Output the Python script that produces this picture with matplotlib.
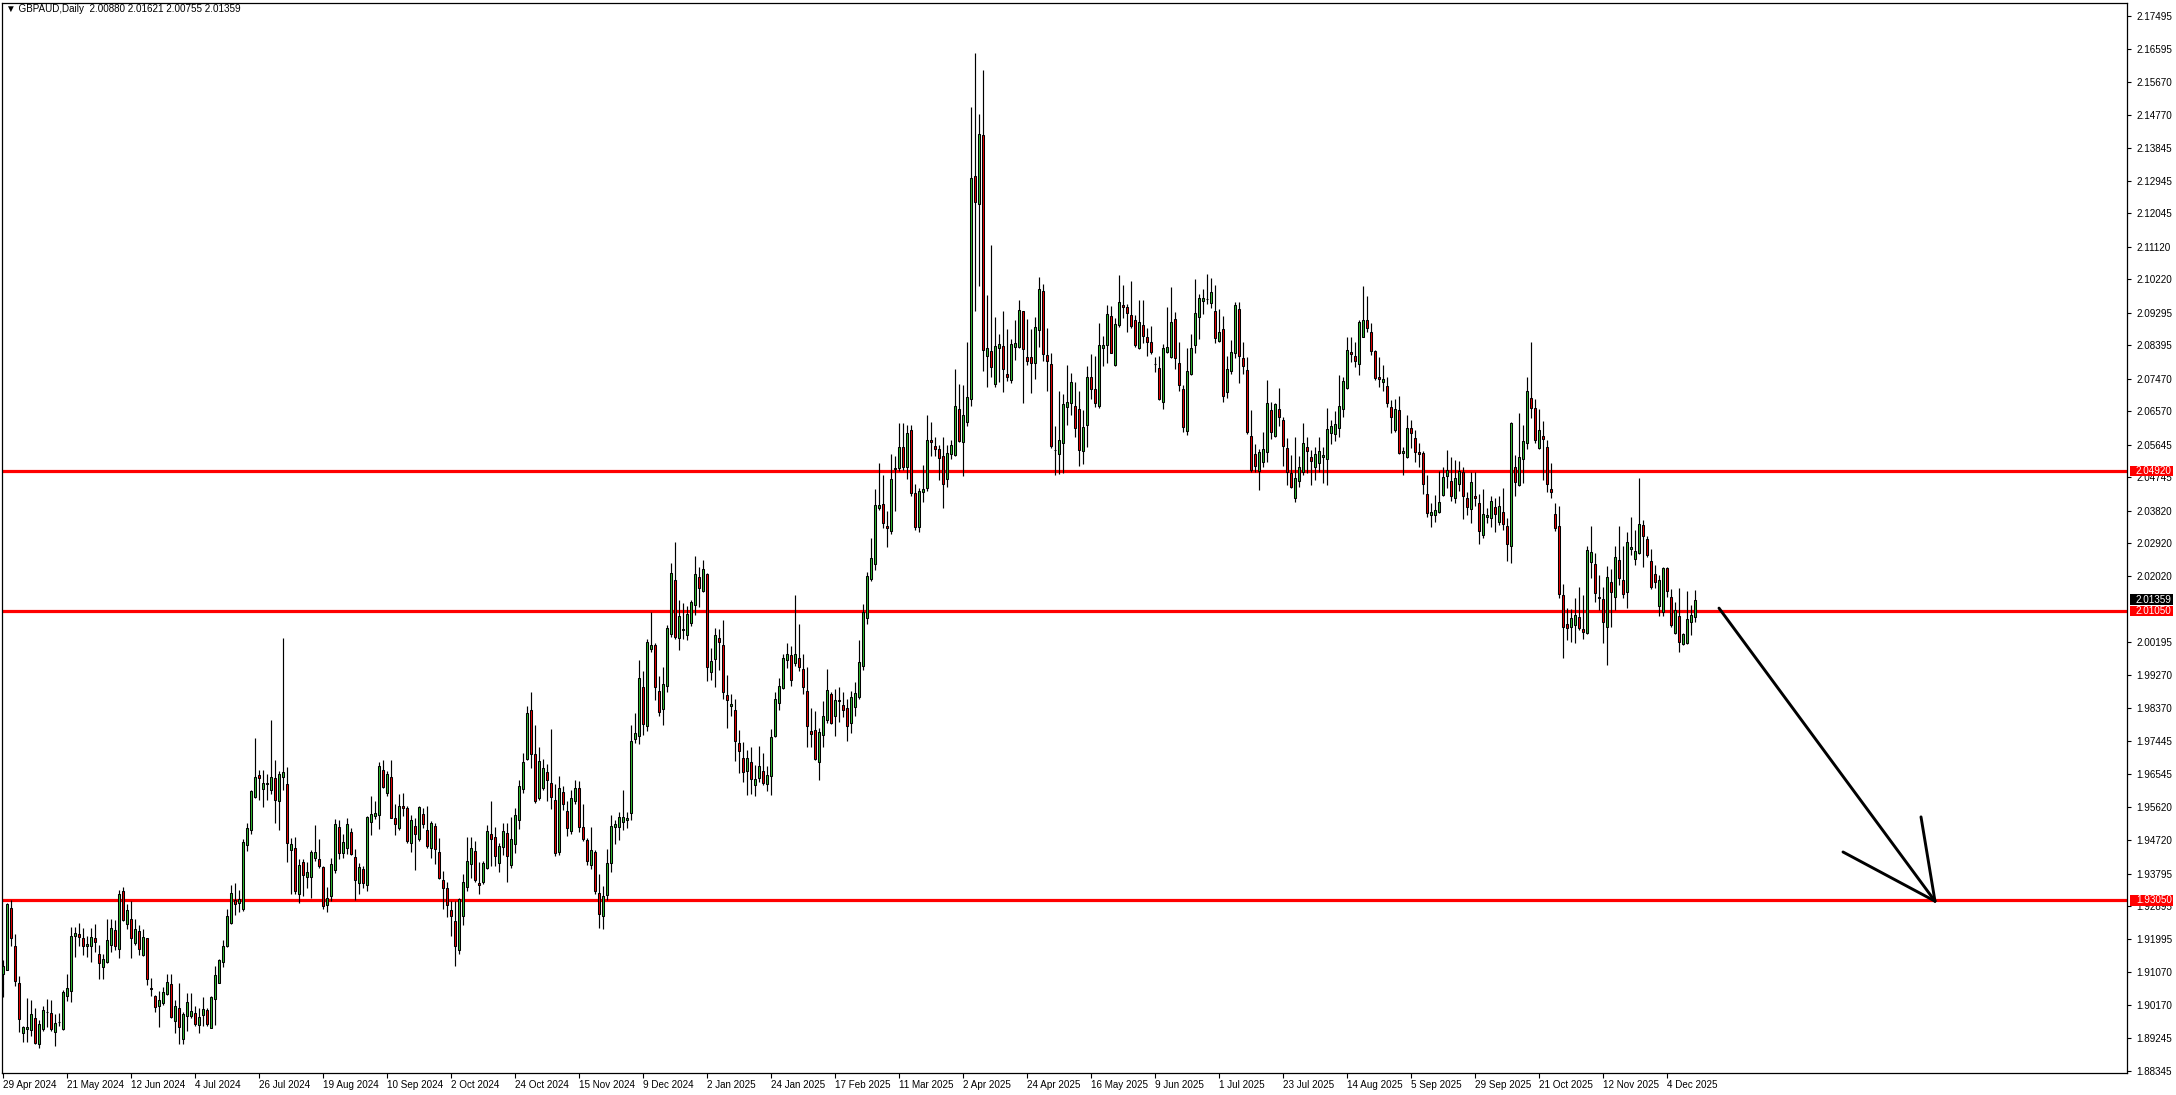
import matplotlib
matplotlib.use("Agg")
from matplotlib import pyplot as plt
from matplotlib import transforms
from matplotlib.patches import Rectangle
import numpy as np

plt.rcParams['font.family'] = ['Liberation Sans', 'DejaVu Sans']

# GBPAUD daily candles, 29 Apr 2024 .. 15 Dec 2025
opens = [
    1.9103, 1.9114, 1.9285, 1.9180, 1.9078, 1.8938, 1.8951, 1.8946, 1.8979, 1.8908,
    1.8949, 1.8996, 1.8993, 1.8941, 1.8968, 1.8949, 1.9040, 1.9056, 1.9207, 1.9211,
    1.9202, 1.9179, 1.9180, 1.9202, 1.9158, 1.9122, 1.9134, 1.9183, 1.9224, 1.9172,
    1.9331, 1.9241, 1.9255, 1.9188, 1.9220, 1.9155, 1.9200, 1.9063, 1.9041, 1.9013,
    1.9021, 1.9046, 1.9073, 1.8971, 1.9007, 1.8922, 1.8986, 1.8986, 1.8993, 1.8960,
    1.8988, 1.9001, 1.8952, 1.9034, 1.9078, 1.9135, 1.9178, 1.9244, 1.9307, 1.9298,
    1.9281, 1.9457, 1.9500, 1.9591, 1.9653, 1.9614, 1.9628, 1.9609, 1.9643, 1.9581,
    1.9646, 1.9628, 1.9445, 1.9450, 1.9324, 1.9412, 1.9371, 1.9371, 1.9423, 1.9419,
    1.9397, 1.9292, 1.9316, 1.9389, 1.9509, 1.9435, 1.9449, 1.9494, 1.9426, 1.9353,
    1.9393, 1.9347, 1.9522, 1.9538, 1.9541, 1.9666, 1.9602, 1.9645, 1.9534, 1.9506,
    1.9565, 1.9561, 1.9463, 1.9512, 1.9474, 1.9543, 1.9499, 1.9449, 1.9512, 1.9438,
    1.9361, 1.9339, 1.9280, 1.9249, 1.9169, 1.9263, 1.9343, 1.9405, 1.9442, 1.9353,
    1.9356, 1.9396, 1.9490, 1.9480, 1.9408, 1.9454, 1.9491, 1.9402, 1.9461, 1.9526,
    1.9612, 1.9697, 1.9832, 1.9711, 1.9589, 1.9615, 1.9659, 1.9631, 1.9584, 1.9438,
    1.9604, 1.9553, 1.9497, 1.9580, 1.9615, 1.9509, 1.9472, 1.9402, 1.9440, 1.9326,
    1.9263, 1.9321, 1.9408, 1.9509, 1.9507, 1.9523, 1.9527, 1.9546, 1.9752, 1.9759,
    1.9895, 1.9787, 2.0000, 2.0012, 1.9885, 1.9835, 1.9897, 2.0041, 2.0192, 2.0030,
    2.0053, 2.0038, 2.0071, 2.0122, 2.0199, 2.0159, 2.0206, 1.9936, 1.9972, 2.0030,
    2.0012, 1.9873, 1.9842, 1.9832, 1.9740, 1.9699, 1.9662, 1.9687, 1.9625, 1.9643,
    1.9664, 1.9628, 1.9649, 1.9759, 1.9852, 1.9891, 1.9970, 1.9983, 1.9960, 1.9976,
    1.9946, 1.9883, 1.9774, 1.9777, 1.9687, 1.9762, 1.9804, 1.9877, 1.9814, 1.9859,
    1.9845, 1.9837, 1.9795, 1.9841, 1.9866, 1.9953, 2.0086, 2.0193, 2.0235, 2.0389,
    2.0401, 2.0340, 2.0326, 2.0497, 2.0501, 2.0557, 2.0503, 2.0606, 2.0430, 2.0336,
    2.0433, 2.0446, 2.0577, 2.0560, 2.0554, 2.0533, 2.0471, 2.0540, 2.0535, 2.0663,
    2.0572, 2.0627, 2.0690, 2.1307, 2.1229, 2.1421, 2.0810, 2.0824, 2.0732, 2.0833,
    2.0838, 2.0760, 2.0744, 2.0836, 2.0836, 2.0933, 2.0806, 2.0806, 2.0790, 2.0882,
    2.0990, 2.0813, 2.0787, 2.0550, 2.0538, 2.0569, 2.0668, 2.0679, 2.0672, 2.0663,
    2.0546, 2.0618, 2.0751, 2.0718, 2.0673, 2.0831, 2.0839, 2.0921, 2.0785, 2.0896,
    2.0951, 2.0944, 2.0922, 2.0908, 2.0831, 2.0896, 2.0861, 2.0848, 2.0789, 2.0776,
    2.0682, 2.0822, 2.0806, 2.0911, 2.0790, 2.0718, 2.0603, 2.0759, 2.0839, 2.0919,
    2.0963, 2.0967, 2.0957, 2.0934, 2.0850, 2.0884, 2.0711, 2.0767, 2.0817, 2.0939,
    2.0803, 2.0771, 2.0589, 2.0538, 2.0493, 2.0518, 2.0544, 2.0661, 2.0590, 2.0663,
    2.0633, 2.0555, 2.0486, 2.0417, 2.0465, 2.0489, 2.0558, 2.0532, 2.0504, 2.0513,
    2.0530, 2.0525, 2.0596, 2.0593, 2.0610, 2.0663, 2.0721, 2.0820, 2.0810, 2.0787,
    2.0863, 2.0908, 2.0877, 2.0825, 2.0751, 2.0739, 2.0727, 2.0670, 2.0604, 2.0661,
    2.0541, 2.0530, 2.0610, 2.0582, 2.0544, 2.0541, 2.0428, 2.0371, 2.0371, 2.0378,
    2.0426, 2.0477, 2.0463, 2.0418, 2.0455, 2.0488, 2.0416, 2.0386, 2.0423, 2.0403,
    2.0315, 2.0366, 2.0361, 2.0393, 2.0352, 2.0378, 2.0341, 2.0285, 2.0504, 2.0453,
    2.0525, 2.0570, 2.0693, 2.0665, 2.0555, 2.0589, 2.0557, 2.0442, 2.0372, 2.0340,
    2.0148, 2.0068, 2.0060, 2.0065, 2.0088, 2.0055, 2.0043, 2.0240, 2.0235, 2.0145,
    2.0138, 2.0060, 2.0184, 2.0143, 2.0246, 2.0191, 2.0157, 2.0276, 2.0248, 2.0264,
    2.0343, 2.0303, 2.0243, 2.0207, 2.0120, 2.0101, 2.0223, 2.0143, 2.0043, 2.0091,
    2.0013, 2.0016, 2.0074, 2.00880,
]

highs = [
    1.9140, 1.9298, 1.9307, 1.9213, 1.9096, 1.8957, 1.9035, 1.9030, 1.9007, 1.8975,
    1.9014, 1.9032, 1.9030, 1.8990, 1.8995, 1.9057, 1.9101, 1.9233, 1.9233, 1.9244,
    1.9229, 1.9206, 1.9229, 1.9241, 1.9181, 1.9156, 1.9255, 1.9255, 1.9250, 1.9334,
    1.9343, 1.9296, 1.9303, 1.9255, 1.9236, 1.9227, 1.9202, 1.9092, 1.9043, 1.9055,
    1.9067, 1.9103, 1.9103, 1.9030, 1.9076, 1.8998, 1.9048, 1.9050, 1.9012, 1.9007,
    1.9039, 1.9007, 1.9042, 1.9123, 1.9142, 1.9195, 1.9282, 1.9349, 1.9354, 1.9334,
    1.9475, 1.9519, 1.9611, 1.9755, 1.9666, 1.9666, 1.9655, 1.9804, 1.9692, 1.9662,
    2.0030, 1.9673, 1.9477, 1.9480, 1.9419, 1.9419, 1.9410, 1.9444, 1.9513, 1.9474,
    1.9401, 1.9341, 1.9423, 1.9529, 1.9527, 1.9490, 1.9533, 1.9506, 1.9448, 1.9408,
    1.9401, 1.9538, 1.9593, 1.9579, 1.9689, 1.9694, 1.9664, 1.9694, 1.9572, 1.9599,
    1.9601, 1.9566, 1.9541, 1.9533, 1.9566, 1.9561, 1.9567, 1.9524, 1.9518, 1.9477,
    1.9387, 1.9355, 1.9304, 1.9304, 1.9312, 1.9378, 1.9480, 1.9480, 1.9469, 1.9412,
    1.9414, 1.9513, 1.9579, 1.9509, 1.9463, 1.9518, 1.9518, 1.9537, 1.9560, 1.9639,
    1.9713, 1.9842, 1.9882, 1.9789, 1.9729, 1.9695, 1.9681, 1.9778, 1.9626, 1.9649,
    1.9622, 1.9581, 1.9610, 1.9639, 1.9635, 1.9571, 1.9479, 1.9507, 1.9445, 1.9378,
    1.9346, 1.9448, 1.9541, 1.9527, 1.9549, 1.9610, 1.9550, 1.9791, 1.9824, 1.9969,
    1.9940, 2.0027, 2.0102, 2.0016, 1.9926, 1.9951, 2.0066, 2.0238, 2.0295, 2.0135,
    2.0128, 2.0119, 2.0135, 2.0258, 2.0227, 2.0247, 2.0211, 2.0004, 2.0057, 2.0055,
    2.0079, 1.9928, 1.9876, 1.9862, 1.9777, 1.9742, 1.9722, 1.9730, 1.9680, 1.9731,
    1.9713, 1.9678, 1.9779, 1.9880, 1.9921, 1.9985, 2.0017, 2.0008, 2.0150, 2.0068,
    1.9985, 1.9949, 1.9837, 1.9829, 1.9783, 1.9855, 1.9944, 1.9880, 1.9889, 1.9896,
    1.9880, 1.9862, 1.9883, 1.9909, 2.0026, 2.0123, 2.0214, 2.0306, 2.0442, 2.0513,
    2.0480, 2.0381, 2.0540, 2.0534, 2.0625, 2.0625, 2.0620, 2.0620, 2.0455, 2.0444,
    2.0508, 2.0648, 2.0627, 2.0586, 2.0565, 2.0586, 2.0563, 2.0577, 2.0773, 2.0732,
    2.0730, 2.0848, 2.1499, 2.1646, 2.1479, 2.1600, 2.0979, 2.1117, 2.0919, 2.0871,
    2.0933, 2.0885, 2.0857, 2.0910, 2.0965, 2.0934, 2.0912, 2.0885, 2.0919, 2.1027,
    2.1009, 2.0888, 2.0817, 2.0615, 2.0713, 2.0705, 2.0785, 2.0764, 2.0739, 2.0713,
    2.0661, 2.0781, 2.0816, 2.0810, 2.0900, 2.0864, 2.0951, 2.0949, 2.0914, 2.1034,
    2.1006, 2.0953, 2.1017, 2.0923, 2.0965, 2.0965, 2.0887, 2.0894, 2.0806, 2.0811,
    2.0842, 2.0944, 2.1000, 2.0931, 2.0848, 2.0730, 2.0831, 2.0870, 2.1023, 2.0981,
    2.0995, 2.1037, 2.1026, 2.1006, 2.0940, 2.0920, 2.0811, 2.0854, 2.0960, 2.0958,
    2.0848, 2.0808, 2.0661, 2.0567, 2.0553, 2.0601, 2.0744, 2.0684, 2.0681, 2.0721,
    2.0642, 2.0582, 2.0536, 2.0585, 2.0534, 2.0624, 2.0585, 2.0550, 2.0557, 2.0587,
    2.0557, 2.0665, 2.0633, 2.0658, 2.0757, 2.0753, 2.0863, 2.0863, 2.0848, 2.0909,
    2.1003, 2.0976, 2.0900, 2.0827, 2.0806, 2.0785, 2.0753, 2.0688, 2.0690, 2.0698,
    2.0557, 2.0647, 2.0633, 2.0605, 2.0569, 2.0546, 2.0481, 2.0403, 2.0426, 2.0492,
    2.0504, 2.0550, 2.0532, 2.0522, 2.0521, 2.0504, 2.0435, 2.0488, 2.0490, 2.0428,
    2.0442, 2.0391, 2.0423, 2.0416, 2.0423, 2.0446, 2.0363, 2.0628, 2.0536, 2.0651,
    2.0619, 2.0751, 2.0849, 2.0690, 2.0662, 2.0630, 2.0578, 2.0515, 2.0403, 2.0395,
    2.0179, 2.0113, 2.0111, 2.0140, 2.0172, 2.0149, 2.0286, 2.0341, 2.0264, 2.0205,
    2.0170, 2.0230, 2.0221, 2.0285, 2.0341, 2.0286, 2.0324, 2.0366, 2.0329, 2.0472,
    2.0357, 2.0313, 2.0276, 2.0232, 2.0205, 2.0226, 2.0228, 2.0166, 2.0129, 2.0168,
    2.0043, 2.0160, 2.0122, 2.01621,
]

lows = [
    1.9039, 1.9112, 1.9178, 1.9068, 1.8942, 1.8913, 1.8915, 1.8929, 1.8909, 1.8896,
    1.8943, 1.8954, 1.8943, 1.8904, 1.8957, 1.8947, 1.9027, 1.9025, 1.9149, 1.9180,
    1.9154, 1.9149, 1.9134, 1.9162, 1.9089, 1.9089, 1.9131, 1.9163, 1.9169, 1.9146,
    1.9248, 1.9227, 1.9146, 1.9181, 1.9154, 1.9151, 1.9071, 1.9041, 1.8998, 1.8954,
    1.9016, 1.9044, 1.8980, 1.8940, 1.8909, 1.8909, 1.8943, 1.8981, 1.8959, 1.8940,
    1.8959, 1.8959, 1.8952, 1.8961, 1.9076, 1.9122, 1.9177, 1.9241, 1.9266, 1.9272,
    1.9275, 1.9442, 1.9488, 1.9589, 1.9584, 1.9564, 1.9584, 1.9600, 1.9520, 1.9499,
    1.9611, 1.9410, 1.9324, 1.9323, 1.9298, 1.9318, 1.9339, 1.9312, 1.9414, 1.9394,
    1.9281, 1.9272, 1.9304, 1.9382, 1.9419, 1.9423, 1.9433, 1.9430, 1.9306, 1.9323,
    1.9339, 1.9332, 1.9485, 1.9529, 1.9503, 1.9616, 1.9595, 1.9532, 1.9485, 1.9501,
    1.9538, 1.9465, 1.9440, 1.9389, 1.9469, 1.9506, 1.9449, 1.9423, 1.9405, 1.9364,
    1.9281, 1.9258, 1.9208, 1.9123, 1.9156, 1.9236, 1.9332, 1.9368, 1.9357, 1.9324,
    1.9350, 1.9391, 1.9400, 1.9399, 1.9385, 1.9431, 1.9356, 1.9396, 1.9436, 1.9502,
    1.9603, 1.9693, 1.9671, 1.9573, 1.9584, 1.9610, 1.9581, 1.9557, 1.9427, 1.9431,
    1.9555, 1.9482, 1.9488, 1.9571, 1.9494, 1.9468, 1.9404, 1.9393, 1.9323, 1.9229,
    1.9227, 1.9307, 1.9385, 1.9461, 1.9473, 1.9500, 1.9505, 1.9527, 1.9741, 1.9738,
    1.9761, 1.9772, 1.9992, 1.9858, 1.9814, 1.9791, 1.9881, 2.0032, 2.0027, 1.9998,
    2.0027, 2.0025, 2.0064, 2.0093, 2.0117, 2.0157, 1.9911, 1.9913, 1.9894, 1.9943,
    1.9862, 1.9781, 1.9816, 1.9691, 1.9657, 1.9632, 1.9596, 1.9598, 1.9593, 1.9632,
    1.9623, 1.9607, 1.9597, 1.9756, 1.9832, 1.9889, 1.9947, 1.9898, 1.9953, 1.9938,
    1.9875, 1.9730, 1.9728, 1.9692, 1.9639, 1.9728, 1.9795, 1.9793, 1.9759, 1.9797,
    1.9811, 1.9745, 1.9768, 1.9816, 1.9862, 1.9942, 2.0070, 2.0187, 2.0219, 2.0384,
    2.0334, 2.0281, 2.0317, 2.0381, 2.0491, 2.0494, 2.0469, 2.0424, 2.0329, 2.0323,
    2.0407, 2.0436, 2.0534, 2.0534, 2.0467, 2.0389, 2.0448, 2.0524, 2.0534, 2.0572,
    2.0477, 2.0615, 2.0673, 2.0933, 2.1004, 2.0767, 2.0723, 2.0751, 2.0725, 2.0739,
    2.0710, 2.0742, 2.0735, 2.0799, 2.0831, 2.0679, 2.0785, 2.0707, 2.0746, 2.0836,
    2.0796, 2.0713, 2.0555, 2.0481, 2.0483, 2.0486, 2.0618, 2.0647, 2.0587, 2.0507,
    2.0512, 2.0558, 2.0690, 2.0670, 2.0666, 2.0783, 2.0790, 2.0817, 2.0781, 2.0891,
    2.0916, 2.0876, 2.0887, 2.0834, 2.0829, 2.0845, 2.0810, 2.0816, 2.0765, 2.0687,
    2.0664, 2.0817, 2.0804, 2.0773, 2.0713, 2.0601, 2.0592, 2.0758, 2.0817, 2.0856,
    2.0925, 2.0953, 2.0942, 2.0845, 2.0848, 2.0684, 2.0695, 2.0760, 2.0805, 2.0736,
    2.0760, 2.0594, 2.0490, 2.0490, 2.0440, 2.0502, 2.0518, 2.0581, 2.0587, 2.0615,
    2.0507, 2.0452, 2.0444, 2.0406, 2.0447, 2.0481, 2.0486, 2.0452, 2.0467, 2.0490,
    2.0458, 2.0452, 2.0566, 2.0575, 2.0587, 2.0640, 2.0719, 2.0794, 2.0780, 2.0756,
    2.0861, 2.0875, 2.0813, 2.0744, 2.0725, 2.0713, 2.0670, 2.0596, 2.0601, 2.0539,
    2.0481, 2.0527, 2.0555, 2.0516, 2.0504, 2.0428, 2.0366, 2.0338, 2.0352, 2.0375,
    2.0424, 2.0444, 2.0409, 2.0403, 2.0437, 2.0358, 2.0370, 2.0347, 2.0396, 2.0289,
    2.0306, 2.0347, 2.0336, 2.0324, 2.0343, 2.0329, 2.0244, 2.0239, 2.0424, 2.0451,
    2.0458, 2.0553, 2.0639, 2.0568, 2.0553, 2.0467, 2.0433, 2.0418, 2.0326, 2.0140,
    1.9976, 2.0025, 2.0019, 2.0016, 2.0053, 2.0027, 2.0041, 2.0197, 2.0131, 2.0108,
    2.0016, 1.9956, 2.0062, 2.0108, 2.0177, 2.0140, 2.0113, 2.0260, 2.0232, 2.0262,
    2.0228, 2.0253, 2.0166, 2.0168, 2.0090, 2.0092, 2.0145, 2.0062, 2.0041, 1.9993,
    2.0011, 2.0013, 2.0039, 2.00755,
]

closes = [
    1.9123, 1.9294, 1.9202, 1.9083, 1.8977, 1.8955, 1.8955, 1.8990, 1.8912, 1.8963,
    1.9001, 1.8997, 1.8949, 1.8966, 1.8968, 1.9051, 1.9062, 1.9208, 1.9216, 1.9204,
    1.9180, 1.9186, 1.9205, 1.9190, 1.9133, 1.9142, 1.9197, 1.9230, 1.9180, 1.9323,
    1.9252, 1.9279, 1.9201, 1.9227, 1.9172, 1.9205, 1.9087, 1.9061, 1.9010, 1.9030,
    1.9053, 1.9079, 1.8982, 1.9012, 1.8955, 1.8991, 1.9023, 1.8999, 1.8964, 1.8982,
    1.9005, 1.8964, 1.9038, 1.9100, 1.9140, 1.9178, 1.9263, 1.9326, 1.9294, 1.9309,
    1.9467, 1.9504, 1.9607, 1.9645, 1.9644, 1.9631, 1.9631, 1.9645, 1.9584, 1.9655,
    1.9659, 1.9465, 1.9460, 1.9330, 1.9402, 1.9375, 1.9384, 1.9439, 1.9439, 1.9399,
    1.9289, 1.9312, 1.9405, 1.9515, 1.9437, 1.9467, 1.9515, 1.9433, 1.9361, 1.9398,
    1.9353, 1.9536, 1.9544, 1.9547, 1.9677, 1.9619, 1.9654, 1.9534, 1.9515, 1.9565,
    1.9561, 1.9469, 1.9526, 1.9488, 1.9562, 1.9515, 1.9455, 1.9518, 1.9446, 1.9367,
    1.9339, 1.9293, 1.9262, 1.9178, 1.9309, 1.9355, 1.9414, 1.9449, 1.9361, 1.9348,
    1.9408, 1.9497, 1.9476, 1.9427, 1.9456, 1.9497, 1.9427, 1.9474, 1.9541, 1.9621,
    1.9688, 1.9824, 1.9711, 1.9581, 1.9690, 1.9672, 1.9639, 1.9590, 1.9436, 1.9617,
    1.9571, 1.9505, 1.9587, 1.9616, 1.9509, 1.9474, 1.9413, 1.9445, 1.9330, 1.9268,
    1.9318, 1.9408, 1.9512, 1.9516, 1.9535, 1.9535, 1.9532, 1.9746, 1.9769, 1.9920,
    1.9793, 2.0020, 2.0012, 1.9894, 1.9825, 1.9903, 2.0058, 2.0209, 2.0032, 2.0091,
    2.0055, 2.0096, 2.0130, 2.0206, 2.0168, 2.0220, 1.9949, 1.9968, 2.0038, 2.0018,
    1.9881, 1.9859, 1.9848, 1.9746, 1.9717, 1.9660, 1.9699, 1.9640, 1.9640, 1.9676,
    1.9630, 1.9653, 1.9756, 1.9863, 1.9898, 1.9976, 1.9987, 1.9915, 1.9987, 1.9949,
    1.9894, 1.9786, 1.9765, 1.9696, 1.9770, 1.9814, 1.9886, 1.9795, 1.9859, 1.9857,
    1.9832, 1.9788, 1.9866, 1.9878, 1.9964, 2.0103, 2.0203, 2.0251, 2.0398, 2.0398,
    2.0348, 2.0334, 2.0471, 2.0501, 2.0557, 2.0503, 2.0598, 2.0430, 2.0338, 2.0436,
    2.0441, 2.0579, 2.0572, 2.0554, 2.0528, 2.0455, 2.0542, 2.0563, 2.0672, 2.0575,
    2.0647, 2.0696, 2.1303, 2.1235, 2.1423, 2.0827, 2.0831, 2.0779, 2.0838, 2.0842,
    2.0773, 2.0751, 2.0842, 2.0845, 2.0937, 2.0829, 2.0797, 2.0790, 2.0889, 2.0994,
    2.0815, 2.0796, 2.0560, 2.0549, 2.0578, 2.0677, 2.0682, 2.0737, 2.0612, 2.0549,
    2.0613, 2.0751, 2.0718, 2.0681, 2.0841, 2.0841, 2.0925, 2.0819, 2.0898, 2.0958,
    2.0946, 2.0928, 2.0893, 2.0841, 2.0905, 2.0865, 2.0848, 2.0820, 2.0787, 2.0690,
    2.0831, 2.0834, 2.0903, 2.0804, 2.0730, 2.0613, 2.0767, 2.0831, 2.0928, 2.0971,
    2.0969, 2.0968, 2.0986, 2.0859, 2.0875, 2.0700, 2.0774, 2.0820, 2.0951, 2.0811,
    2.0783, 2.0601, 2.0495, 2.0507, 2.0544, 2.0552, 2.0679, 2.0601, 2.0676, 2.0640,
    2.0562, 2.0489, 2.0447, 2.0474, 2.0504, 2.0570, 2.0548, 2.0520, 2.0538, 2.0546,
    2.0536, 2.0607, 2.0617, 2.0621, 2.0672, 2.0741, 2.0827, 2.0816, 2.0797, 2.0903,
    2.0908, 2.0886, 2.0825, 2.0748, 2.0746, 2.0745, 2.0679, 2.0642, 2.0664, 2.0541,
    2.0547, 2.0610, 2.0596, 2.0544, 2.0540, 2.0455, 2.0375, 2.0378, 2.0384, 2.0407,
    2.0475, 2.0495, 2.0423, 2.0472, 2.0492, 2.0424, 2.0393, 2.0461, 2.0416, 2.0326,
    2.0372, 2.0370, 2.0409, 2.0372, 2.0395, 2.0345, 2.0289, 2.0626, 2.0461, 2.0532,
    2.0576, 2.0714, 2.0665, 2.0578, 2.0605, 2.0580, 2.0455, 2.0433, 2.0334, 2.0151,
    2.0062, 2.0057, 2.0085, 2.0094, 2.0059, 2.0046, 2.0274, 2.0267, 2.0154, 2.0142,
    2.0074, 2.0198, 2.0157, 2.0253, 2.0195, 2.0151, 2.0295, 2.0281, 2.0271, 2.0345,
    2.0313, 2.0260, 2.0170, 2.0186, 2.0191, 2.0223, 2.0159, 2.0066, 2.0108, 2.0019,
    2.0041, 2.0082, 2.0094, 2.01359,
]

date_labels = [
    "29 Apr 2024", "21 May 2024", "12 Jun 2024", "4 Jul 2024", "26 Jul 2024",
    "19 Aug 2024", "10 Sep 2024", "2 Oct 2024", "24 Oct 2024", "15 Nov 2024",
    "9 Dec 2024", "2 Jan 2025", "24 Jan 2025", "17 Feb 2025", "11 Mar 2025",
    "2 Apr 2025", "24 Apr 2025", "16 May 2025", "9 Jun 2025", "1 Jul 2025",
    "23 Jul 2025", "14 Aug 2025", "5 Sep 2025", "29 Sep 2025", "21 Oct 2025",
    "12 Nov 2025", "4 Dec 2025",
]
bars_per_label = 16

price_ticks = [
    2.17495, 2.16595, 2.15670, 2.14770, 2.13845, 2.12945, 2.12045, 2.11120,
    2.10220, 2.09295, 2.08395, 2.07470, 2.06570, 2.05645, 2.04745, 2.03820,
    2.02920, 2.02020, 2.00195, 1.99270, 1.98370, 1.97445, 1.96545, 1.95620,
    1.94720, 1.93795, 1.92895, 1.91995, 1.91070, 1.90170, 1.89245, 1.88345,
]

levels = [2.04920, 2.01050, 1.93050]
last_price = 2.01359

# hand-drawn arrow: (bar index, price)
arrow_from = (429, 2.0113)
arrow_to = (483, 1.9303)
arrow_head = [(460, 1.9439), (479.5, 1.9536)]

title = "\u25bc GBPAUD,Daily  2.00880 2.01621 2.00755 2.01359"

bull = "#2fb82f"
bear = "#e60000"
fsize = 7.1

fig = plt.figure(figsize=(21.76, 10.95), dpi=100)
ax = fig.add_axes([2 / 2176, 22 / 1095, 2125 / 2176, 1070 / 1095])

o = np.array(opens)
h = np.array(highs)
l = np.array(lows)
c = np.array(closes)
x = np.arange(len(c))

up = c >= o
colors = np.where(up, bull, bear)
body_low = np.minimum(o, c)
body_h = np.maximum(np.abs(c - o), 0.00004)

# levels under the candles
for lv in levels:
    ax.axhline(lv, color="red", linewidth=2.3, zorder=1)

ax.vlines(x, l, h, color="black", linewidth=0.85, zorder=2)
ax.bar(x, body_h, bottom=body_low, width=0.55, color=colors,
       edgecolor="black", linewidth=0.75, zorder=3)

# arrow
ax.plot([arrow_from[0], arrow_to[0]], [arrow_from[1], arrow_to[1]],
        color="black", linewidth=2.1, solid_capstyle="round", zorder=4)
for hx, hy in arrow_head:
    ax.plot([hx, arrow_to[0]], [hy, arrow_to[1]], color="black",
            linewidth=2.1, solid_capstyle="round", zorder=4)

ax.set_xlim(-0.25, 531)
ax.set_ylim(1.88281, 2.17855)

for sp in ax.spines.values():
    sp.set_linewidth(0.9)
    sp.set_color("black")

ax.yaxis.tick_right()
ax.set_yticks(price_ticks)
ax.set_yticklabels(["%.5f" % p for p in price_ticks])
ax.tick_params(axis="y", direction="out", length=3, width=0.8,
               labelsize=fsize, pad=4, colors="black")

ax.set_xticks(np.arange(len(date_labels)) * bars_per_label)
ax.set_xticklabels(date_labels, ha="left")
ax.tick_params(axis="x", direction="out", length=3.5, width=0.8,
               labelsize=fsize, pad=1.5, colors="black")

# price tags on the scale: box from the scale line to the figure edge
tag = transforms.blended_transform_factory(ax.transAxes, ax.transData)
tag_h = 0.0030
tag_x0 = 1 + 3 / 2125
tag_w = 43 / 2125


def price_tag(price, face, z):
    ax.add_patch(Rectangle((tag_x0, price - tag_h / 2), tag_w, tag_h,
                           transform=tag, facecolor=face, edgecolor="none",
                           clip_on=False, zorder=z))
    ax.text(1 + 9 / 2125, price, "%.5f" % price, transform=tag, ha="left",
            va="center", fontsize=fsize, color="white", clip_on=False,
            zorder=z + 0.5)


price_tag(last_price, "black", 6)
for lv in levels:
    price_tag(lv, "red", 7)

fig.text(6 / 2176, 1 - 9 / 1095, title, ha="left", va="center",
         fontsize=fsize, color="black")

fig.savefig("out.png", dpi=100)
